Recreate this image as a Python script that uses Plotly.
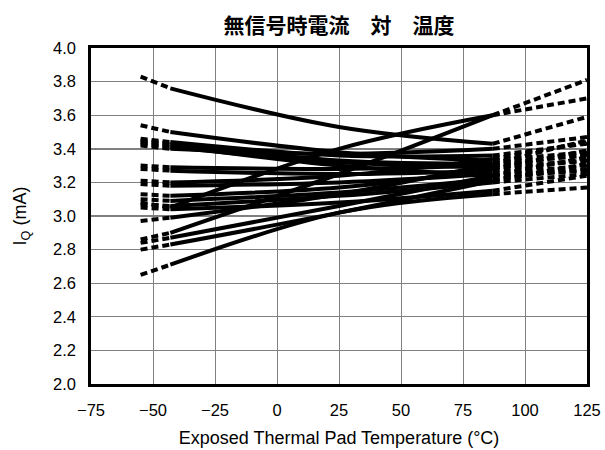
import plotly.graph_objects as go

# Exposed thermal pad temperature (°C) at which each unit's quiescent current is given
temps = [-55, -43, 25, 87, 125]

# Quiescent current I_Q (mA) per unit at the temperatures above
unit_01 = [3.83, 3.76, 3.53, 3.43, 3.59]
unit_02 = [3.54, 3.50, 3.38, 3.33, 3.38]
unit_03 = [3.46, 3.44, 3.36, 3.36, 3.43]
unit_04 = [3.45, 3.43, 3.33, 3.31, 3.36]
unit_05 = [3.43, 3.41, 3.32, 3.29, 3.33]
unit_06 = [3.42, 3.40, 3.37, 3.40, 3.47]
unit_07 = [3.44, 3.42, 3.30, 3.24, 3.27]
unit_08 = [3.08, 3.05, 3.40, 3.60, 3.81]
unit_09 = [2.86, 2.90, 3.25, 3.60, 3.70]
unit_10 = [3.30, 3.29, 3.28, 3.30, 3.37]
unit_11 = [3.28, 3.27, 3.25, 3.27, 3.33]
unit_12 = [3.21, 3.20, 3.24, 3.34, 3.44]
unit_13 = [3.19, 3.18, 3.20, 3.25, 3.30]
unit_14 = [3.13, 3.12, 3.17, 3.28, 3.39]
unit_15 = [3.10, 3.09, 3.14, 3.22, 3.28]
unit_16 = [3.07, 3.06, 3.12, 3.20, 3.25]
unit_17 = [3.05, 3.04, 3.08, 3.15, 3.24]
unit_18 = [2.97, 2.99, 3.13, 3.31, 3.45]
unit_19 = [2.84, 2.87, 3.06, 3.24, 3.35]
unit_20 = [2.80, 2.83, 3.02, 3.21, 3.31]
unit_21 = [2.65, 2.71, 3.02, 3.13, 3.17]

units = [unit_01, unit_02, unit_03, unit_04, unit_05, unit_06, unit_07,
         unit_08, unit_09, unit_10, unit_11, unit_12, unit_13, unit_14,
         unit_15, unit_16, unit_17, unit_18, unit_19, unit_20, unit_21]

x_ticks = [-75, -50, -25, 0, 25, 50, 75, 100, 125]
x_tick_text = ["\u221275", "\u221250", "\u221225", "0", "25", "50", "75", "100", "125"]
y_ticks = [2.0, 2.2, 2.4, 2.6, 2.8, 3.0, 3.2, 3.4, 3.6, 3.8, 4.0]

LW = 4
DASH = "7px,4px"

fig = go.Figure()

for iq in units:
    # extrapolated low-temperature segment
    fig.add_trace(go.Scatter(x=temps[0:2], y=iq[0:2], mode="lines",
                             line=dict(color="black", width=LW, dash=DASH),
                             showlegend=False, hoverinfo="skip"))
    # measured range
    fig.add_trace(go.Scatter(x=temps[1:4], y=iq[1:4], mode="lines",
                             line=dict(color="black", width=LW, shape="spline"),
                             showlegend=False, hoverinfo="skip"))
    # extrapolated high-temperature segment
    fig.add_trace(go.Scatter(x=temps[3:5], y=iq[3:5], mode="lines",
                             line=dict(color="black", width=LW, dash=DASH),
                             showlegend=False, hoverinfo="skip"))

# heavier reference lines at 3.0 mA and 3.4 mA
for yv in (3.0, 3.4):
    fig.add_shape(type="line", xref="x", yref="y", x0=-75, x1=125, y0=yv, y1=yv,
                  line=dict(color="black", width=1.2), layer="below")

font_main = "Liberation Sans, Arial, sans-serif"

fig.update_layout(
    width=605, height=450,
    margin=dict(l=91, r=18, t=48, b=66, autoexpand=False),
    paper_bgcolor="white", plot_bgcolor="white",
    title=dict(text="<b>無信号時電流\u3000対\u3000温度</b>",
               font=dict(family="Noto Sans CJK JP", size=21, color="black"),
               x=339 / 605, xanchor="center",
               y=1 - 26 / 450, yanchor="middle", automargin=False),
    font=dict(family=font_main, size=16, color="black"),
    xaxis=dict(range=[-75, 125], tickvals=x_ticks, ticktext=x_tick_text,
               showgrid=True, gridcolor="#808080", gridwidth=1,
               showline=True, linecolor="black", linewidth=2.5, mirror=True,
               ticks="", ticklabelstandoff=9, zeroline=False, automargin=False,
               tickfont=dict(size=16.5),
               title=dict(text="Exposed Thermal Pad Temperature (\u00b0C)",
                          font=dict(size=18), standoff=14)),
    yaxis=dict(range=[2.0, 4.0], tickvals=y_ticks, tickformat=".1f",
               showgrid=True, gridcolor="#808080", gridwidth=1,
               showline=True, linecolor="black", linewidth=2.5, mirror=True,
               ticks="", ticklabelstandoff=9, zeroline=False, automargin=False,
               tickfont=dict(size=16.5),
               title=dict(text="I<sub>Q</sub> (mA)", font=dict(size=18),
                          standoff=22)),
)

fig.write_html("out.html")
